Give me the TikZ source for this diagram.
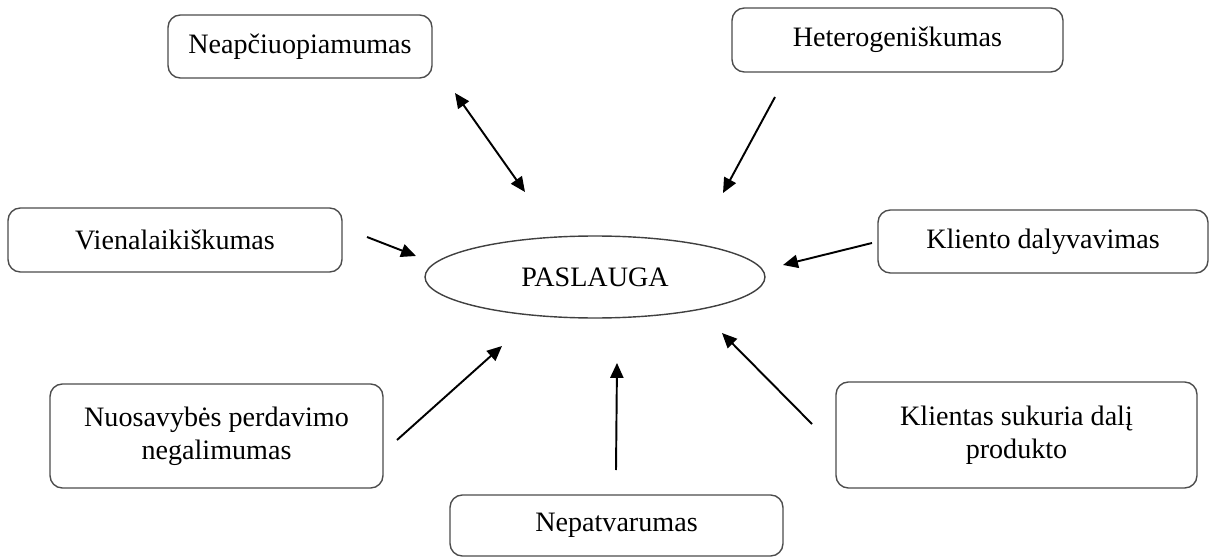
\documentclass[tikz,border=0pt]{standalone}
\usepackage{fontspec}
\setmainfont{Liberation Serif}
\usetikzlibrary{arrows.meta}
\usetikzlibrary{shapes.geometric}

\begin{document}
\begin{tikzpicture}[x=0.02cm, y=-0.02cm,
    box/.style={draw=black!70, line width=0.8pt, rounded corners=7pt, align=center,
      inner sep=0pt, outer sep=0pt, font=\fontsize{16}{19}\selectfont},
    arr/.style={-{Triangle[length=8.5pt,width=7.5pt]}, line width=1.1pt}]
      \useasboundingbox (0,0) rectangle (1210,557);
      % center
      \node[draw=black!75, line width=0.8pt, ellipse, inner sep=0pt, minimum width=6.8cm, minimum height=1.64cm,
        font=\fontsize{16}{19}\selectfont] (pasl) at (595,277) {PASLAUGA};
      % boxes
      \node[box, minimum width=5.28cm, minimum height=1.26cm] (neap) at (300,46.5) {Neapčiuopiamumas};
      \node[box, minimum width=6.62cm, minimum height=1.28cm] (het) at (897.5,40) {Heterogeniškumas};
      \node[box, minimum width=6.68cm, minimum height=1.28cm] (vien) at (175,240) {Vienalaikiškumas};
      \node[box, minimum width=6.6cm, minimum height=1.26cm] (klid) at (1043,241.5) {Kliento dalyvavimas};
      \node[box, minimum width=6.66cm, minimum height=2.08cm] (nuos) at (216.5,436) {Nuosavybės perdavimo\\negalimumas};
      \node[box, minimum width=7.22cm, minimum height=2.12cm] (klis) at (1016.5,435) {Klientas sukuria dalį\\produkto};
      \node[box, minimum width=6.66cm, minimum height=1.22cm] (nepa) at (616.5,525.5) {Nepatvarumas};
      % arrow ends
      \coordinate (neapA) at (455,93);   \coordinate (neapB) at (525,192);
      \coordinate (hetA) at (775,97);    \coordinate (hetB) at (723,193);
      \coordinate (vienA) at (367,237);  \coordinate (vienB) at (416,256);
      \coordinate (klidA) at (872,243);  \coordinate (klidB) at (783,265);
      \coordinate (nuosA) at (397,440);  \coordinate (nuosB) at (502,346);
      \coordinate (nepaA) at (616,470);  \coordinate (nepaB) at (617,363);
      \coordinate (klisA) at (812,424);  \coordinate (klisB) at (722,333);
      \draw[arr, {Triangle[length=8.5pt,width=7.5pt]}-{Triangle[length=8.5pt,width=7.5pt]}] (neapA) -- (neapB);
      \draw[arr] (hetA) -- (hetB);
      \draw[arr] (vienA) -- (vienB);
      \draw[arr] (klidA) -- (klidB);
      \draw[arr] (nuosA) -- (nuosB);
      \draw[arr] (nepaA) -- (nepaB);
      \draw[arr] (klisA) -- (klisB);
\end{tikzpicture}
\end{document}
